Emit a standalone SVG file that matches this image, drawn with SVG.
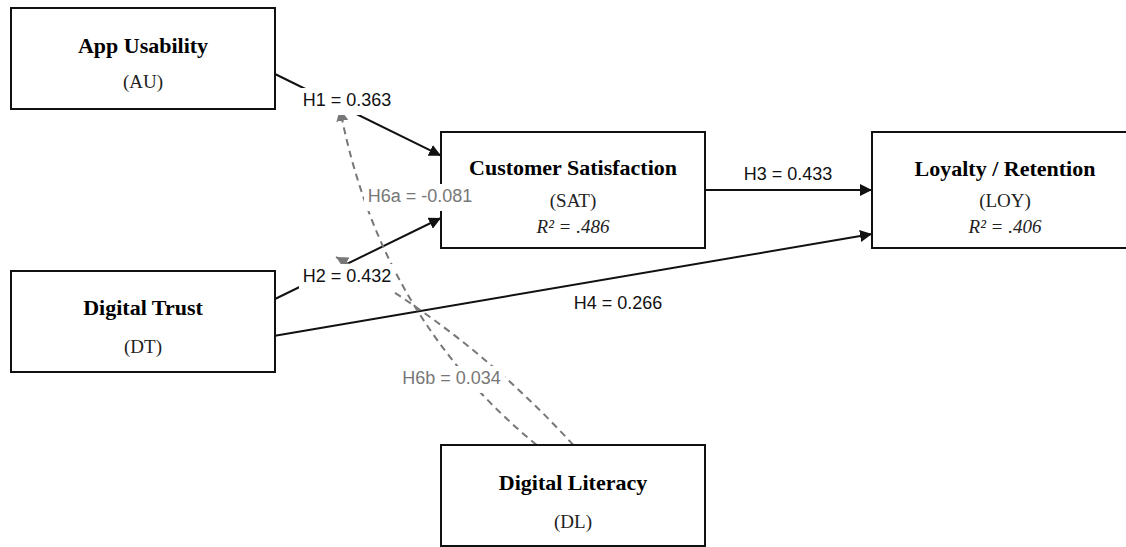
<svg xmlns="http://www.w3.org/2000/svg" width="1126" height="547" viewBox="0 0 1126 547">
  <style>
    .box { fill: #ffffff; stroke: #111111; stroke-width: 2; }
    .title { font-family: "Liberation Serif", "Times New Roman", serif; font-weight: bold; font-size: 22px; fill: #000000; text-anchor: middle; }
    .sub { font-family: "Liberation Serif", "Times New Roman", serif; font-size: 19px; fill: #222222; text-anchor: middle; }
    .r2 { font-family: "Liberation Serif", "Times New Roman", serif; font-style: italic; font-size: 19px; fill: #222222; text-anchor: middle; }
    .edge { fill: none; stroke: #111111; stroke-width: 2; }
    .mod { fill: none; stroke: #777777; stroke-width: 2; stroke-dasharray: 7 5; }
    .lbl { font-family: "Liberation Sans", Arial, sans-serif; font-size: 18px; fill: #111111; text-anchor: middle; }
    .lbl-mod { font-family: "Liberation Sans", Arial, sans-serif; font-size: 18px; fill: #777777; text-anchor: middle; }
    .lbg { fill: #ffffff; stroke: none; }
  </style>
  <defs>
    <marker id="arrow" viewBox="0 0 12 12" refX="12" refY="6" markerWidth="12" markerHeight="12" markerUnits="userSpaceOnUse" orient="auto">
      <path d="M0,0 L12,6 L0,12 z" fill="#111111"/>
    </marker>
    <marker id="arrow-gray" viewBox="0 0 12 12" refX="12" refY="6" markerWidth="12" markerHeight="12" markerUnits="userSpaceOnUse" orient="auto">
      <path d="M0,0 L12,6 L0,12 z" fill="#777777"/>
    </marker>
  </defs>
  <rect width="1126" height="547" fill="#ffffff"/>

  <g id="connectors">
    <path id="edge-H1" class="edge" d="M275,74 L441,155.7" marker-end="url(#arrow)"/>
    <path id="edge-H2" class="edge" d="M275,299 L441,218" marker-end="url(#arrow)"/>
    <path id="edge-H3" class="edge" d="M705,190 L872,190" marker-end="url(#arrow)"/>
    <path id="edge-H4" class="edge" d="M275,335.7 L872,234" marker-end="url(#arrow)"/>
    <path id="edge-H6a" class="mod" d="M536.7,445 Q380,317 340,109" marker-end="url(#arrow-gray)"/>
    <path id="edge-H6b" class="mod" d="M573.3,445 Q470,332 336,257" marker-end="url(#arrow-gray)"/>
  </g>

  <g id="node-AU">
    <rect class="box" x="11" y="8" width="264" height="101"/>
    <text class="title" x="143" y="53">App Usability</text>
    <text class="sub" x="143" y="88">(AU)</text>
  </g>
  <g id="node-DT">
    <rect class="box" x="11" y="271" width="264" height="101"/>
    <text class="title" x="143" y="315">Digital Trust</text>
    <text class="sub" x="143" y="353">(DT)</text>
  </g>
  <g id="node-SAT">
    <rect class="box" x="441" y="132" width="264" height="116"/>
    <text class="title" x="573" y="175">Customer Satisfaction</text>
    <text class="sub" x="573" y="207">(SAT)</text>
    <text class="r2" x="573" y="233">R² = .486</text>
  </g>
  <g id="node-LOY">
    <rect class="box" x="872" y="132" width="264" height="116"/>
    <text class="title" x="1005" y="176">Loyalty / Retention</text>
    <text class="sub" x="1005" y="207">(LOY)</text>
    <text class="r2" x="1005" y="233">R² = .406</text>
  </g>
  <g id="node-DL">
    <rect class="box" x="441" y="445" width="264" height="101"/>
    <text class="title" x="573" y="490">Digital Literacy</text>
    <text class="sub" x="573" y="528">(DL)</text>
  </g>

  <g id="connector-labels">
    <rect class="lbg" x="299" y="88" width="96" height="27"/>
    <text class="lbl" x="347" y="106">H1 = 0.363</text>
    <rect class="lbg" x="299" y="264" width="96" height="27"/>
    <text class="lbl" x="347" y="282">H2 = 0.432</text>
    <rect class="lbg" x="740" y="162" width="96" height="25"/>
    <text class="lbl" x="788" y="180">H3 = 0.433</text>
    <rect class="lbg" x="570" y="291" width="96" height="27"/>
    <text class="lbl" x="618" y="309">H4 = 0.266</text>
    <rect class="lbg" x="364" y="184" width="113" height="27"/>
    <text class="lbl-mod" x="420" y="202">H6a = -0.081</text>
    <rect class="lbg" x="398" y="366" width="107" height="27"/>
    <text class="lbl-mod" x="451.5" y="384">H6b = 0.034</text>
  </g>
</svg>
